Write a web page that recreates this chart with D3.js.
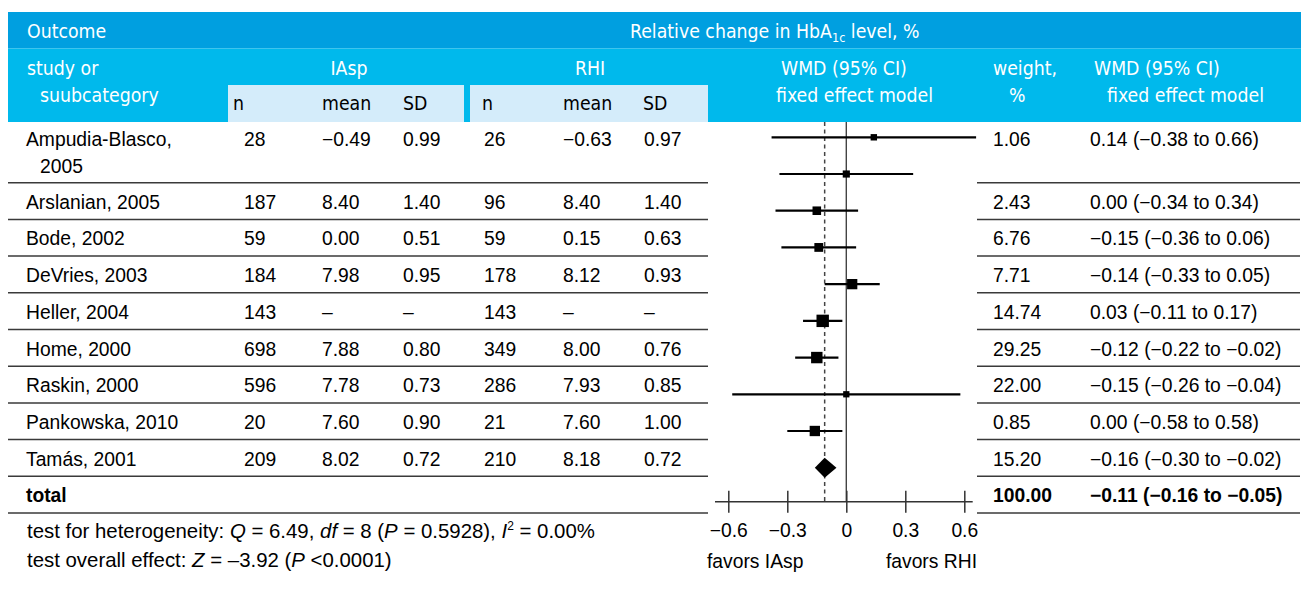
<!DOCTYPE html>
<html><head><meta charset="utf-8">
<script src="https://cdn.jsdelivr.net/npm/d3@7"></script>
<style>
html,body{margin:0;padding:0;background:#fff;}
svg{display:block;}
</style></head>
<body>
<script>
// ---------- DATA ----------
const studyLabels = [["Ampudia-Blasco,", "2005"], ["Arslanian, 2005"], ["Bode, 2002"], ["DeVries, 2003"],
  ["Heller, 2004"], ["Home, 2000"], ["Raskin, 2000"], ["Pankowska, 2010"], ["Tamás, 2001"]];
const iaspN = [28, 187, 59, 184, 143, 698, 596, 20, 209];
const iaspMean = [-0.49, 8.40, 0.00, 7.98, null, 7.88, 7.78, 7.60, 8.02];
const iaspSD = [0.99, 1.40, 0.51, 0.95, null, 0.80, 0.73, 0.90, 0.72];
const rhiN = [26, 96, 59, 178, 143, 349, 286, 21, 210];
const rhiMean = [-0.63, 8.40, 0.15, 8.12, null, 8.00, 7.93, 7.60, 8.18];
const rhiSD = [0.97, 1.40, 0.63, 0.93, null, 0.76, 0.85, 1.00, 0.72];
const weights = [1.06, 2.43, 6.76, 7.71, 14.74, 29.25, 22.00, 0.85, 15.20];
const wmd = [0.14, 0.00, -0.15, -0.14, 0.03, -0.12, -0.15, 0.00, -0.16];
const ciLow = [-0.38, -0.34, -0.36, -0.33, -0.11, -0.22, -0.26, -0.58, -0.30];
const ciHigh = [0.66, 0.34, 0.06, 0.05, 0.17, -0.02, -0.04, 0.58, -0.02];
const totalWeight = 100.00;
const totalWmd = -0.11, totalLow = -0.16, totalHigh = -0.05;
const axisTicks = [-0.6, -0.3, 0, 0.3, 0.6];

// ---------- SETUP ----------
const W = 1308, H = 609;
const bodyFont = "'Liberation Sans', Arial, sans-serif";
const headFont = "'Liberation Sans Narrow', 'Arial Narrow', 'DejaVu Sans Condensed', sans-serif";
const dash = s => s.replace(/-/g, "\u2013");
const f2 = v => v == null ? "\u2013" : dash(d3.format(".2f")(v));

const svg = d3.select("body").append("svg").attr("width", W).attr("height", H);
svg.append("rect").attr("width", W).attr("height", H).attr("fill", "#fff");

// header bands
const hdr = svg.append("g");
hdr.append("rect").attr("x", 8).attr("y", 12).attr("width", 1293).attr("height", 36.5).attr("fill", "#009fe0");
hdr.append("rect").attr("x", 8).attr("y", 48.5).attr("width", 1293).attr("height", 73.5).attr("fill", "#00b9ec");
hdr.append("rect").attr("x", 228).attr("y", 85).attr("width", 236).attr("height", 37).attr("fill", "#d4ecfa");
hdr.append("rect").attr("x", 470).attr("y", 85).attr("width", 238).attr("height", 37).attr("fill", "#d4ecfa");

function htext(x, y, s, anchor, color) {
  return hdr.append("text").attr("x", x).attr("y", y).attr("text-anchor", anchor || "start")
    .attr("font-family", headFont).attr("font-size", 19.3).attr("fill", color || "#fff").text(s);
}
htext(27, 38, "Outcome");
const rel = hdr.append("text").attr("x", 630).attr("y", 38).attr("font-family", headFont)
  .attr("font-size", 19.3).attr("fill", "#fff");
rel.append("tspan").text("Relative change in HbA");
rel.append("tspan").attr("font-size", 12.5).attr("dy", 4).text("1c");
rel.append("tspan").attr("dy", -4).text(" level, %");
htext(27, 75, "study or");
htext(40, 102, "suubcategory");
htext(349, 75, "IAsp", "middle");
htext(590, 75, "RHI", "middle");
[[233, "n"], [322, "mean"], [403, "SD"], [482, "n"], [563, "mean"], [643, "SD"]].forEach(d => htext(d[0], 110, d[1], "start", "#000"));
htext(781, 75, "WMD (95% CI)");
htext(776, 102, "fixed effect model");
htext(993, 75, "weight,");
htext(1009, 102, "%");
htext(1094, 75, "WMD (95% CI)");
htext(1107, 102, "fixed effect model");

// ---------- TABLE ROWS ----------
const rowsG = svg.append("g").attr("font-family", bodyFont).attr("font-size", 19.3).attr("fill", "#000");
const lineH = 36.7, firstTop = 122;
let tops = [];
let t = firstTop;
studyLabels.forEach(l => { tops.push(t); t += l.length > 1 ? 60.7 : lineH; });
const totalTop = t;
const tableBottom = totalTop + lineH;

function txt(x, y, s, bold) {
  return rowsG.append("text").attr("x", x).attr("y", y).attr("font-weight", bold ? "bold" : null).text(s);
}
studyLabels.forEach((lab, i) => {
  const base = i === 0 ? tops[i] + 24 : tops[i] + 26;
  txt(26, base, lab[0]);
  if (lab[1]) txt(40, base + 26.7, lab[1]);
  txt(244, base, iaspN[i]);
  txt(322, base, f2(iaspMean[i]));
  txt(403, base, f2(iaspSD[i]));
  txt(484, base, rhiN[i]);
  txt(563, base, f2(rhiMean[i]));
  txt(644, base, f2(rhiSD[i]));
  txt(993, base, d3.format(".2f")(weights[i]));
  txt(1090, base, `${f2(wmd[i])} (${f2(ciLow[i])} to ${f2(ciHigh[i])})`);
});
txt(26, totalTop + 26, "total", true);
txt(993, totalTop + 26, d3.format(".2f")(totalWeight), true);
txt(1090, totalTop + 26, `${f2(totalWmd)} (${f2(totalLow)} to ${f2(totalHigh)})`, true);

// separator lines
const sepYs = tops.slice(1).concat([totalTop, tableBottom]);
const sepG = svg.append("g").attr("stroke", "#3a3a3a").attr("stroke-width", 1.5);
sepYs.forEach(y => {
  sepG.append("line").attr("x1", 8).attr("x2", 708).attr("y1", y).attr("y2", y);
  sepG.append("line").attr("x1", 977).attr("x2", 1300).attr("y1", y).attr("y2", y);
});

// ---------- FOREST PLOT ----------
const x = d3.scaleLinear().domain([-0.6, 0.6]).range([728.3, 964.3]);
const yMark = d3.scaleLinear().domain([0, studyLabels.length]).range([137.3, 467.7]);
const size = d3.scaleSqrt().domain([0, 30]).range([5, 12.5]);
const axisY = 501.7;
const fp = svg.append("g");

fp.append("line").attr("x1", x(0)).attr("x2", x(0)).attr("y1", 122).attr("y2", axisY)
  .attr("stroke", "#444").attr("stroke-width", 1.4);
fp.append("line").attr("x1", x(totalWmd)).attr("x2", x(totalWmd)).attr("y1", 122).attr("y2", axisY)
  .attr("stroke", "#444").attr("stroke-width", 1.5).attr("stroke-dasharray", "4,3.5");

const rows = weights.map((w, i) => ({ w, m: wmd[i], lo: ciLow[i], hi: ciHigh[i], i }));
fp.selectAll(".ci").data(rows).join("line").attr("class", "ci")
  .attr("x1", d => x(d.lo)).attr("x2", d => x(d.hi))
  .attr("y1", d => yMark(d.i)).attr("y2", d => yMark(d.i))
  .attr("stroke", "#000").attr("stroke-width", 2.2);
fp.selectAll(".sq").data(rows).join("rect").attr("class", "sq")
  .attr("x", d => x(d.m) - size(d.w) / 2).attr("y", d => yMark(d.i) - size(d.w) / 2)
  .attr("width", d => size(d.w)).attr("height", d => size(d.w)).attr("fill", "#000");

const dy = yMark(studyLabels.length);
fp.append("path")
  .attr("d", `M${x(totalLow)},${dy} L${x(totalWmd)},${dy - 10} L${x(totalHigh)},${dy} L${x(totalWmd)},${dy + 10} Z`)
  .attr("fill", "#000");

// axis
const axis = d3.axisBottom(x).tickValues(axisTicks).tickSize(0)
  .tickFormat(v => v === 0 ? "0" : dash(d3.format(".1f")(v)));
const ax = svg.append("g").attr("transform", `translate(0,${axisY})`).call(axis);
ax.select(".domain").remove();
ax.append("line").attr("x1", 715).attr("x2", 972.7).attr("stroke", "#333").attr("stroke-width", 1.5);
ax.selectAll(".tick line").attr("y1", -11).attr("y2", 11).attr("stroke", "#333").attr("stroke-width", 1.5);
ax.selectAll(".tick text").attr("y", 35.5).attr("dy", 0)
  .attr("font-family", bodyFont).attr("font-size", 19.3).attr("fill", "#000");

svg.append("text").attr("x", 707).attr("y", 568).attr("font-family", bodyFont).attr("font-size", 19.3)
  .attr("fill", "#000").text("favors IAsp");
svg.append("text").attr("x", 977).attr("y", 568).attr("text-anchor", "end").attr("font-family", bodyFont)
  .attr("font-size", 19.3).attr("fill", "#000").text("favors RHI");

// ---------- FOOTNOTES ----------
function rich(y, parts) {
  const tEl = svg.append("text").attr("x", 27).attr("y", y).attr("font-family", bodyFont)
    .attr("font-size", 20.4).attr("fill", "#000");
  parts.forEach(p => {
    const ts = tEl.append("tspan").text(p.t);
    if (p.i) ts.attr("font-style", "italic");
    if (p.sup) ts.attr("font-size", 12).attr("dy", -8);
    if (p.down) ts.attr("dy", 8);
  });
}
rich(538, [{ t: "test for heterogeneity: " }, { t: "Q", i: 1 }, { t: " = 6.49, " }, { t: "df", i: 1 },
  { t: " = 8 (" }, { t: "P", i: 1 }, { t: " = 0.5928), " }, { t: "I", i: 1 }, { t: "2", sup: 1 },
  { t: " = 0.00%", down: 1 }]);
rich(567, [{ t: "test overall effect: " }, { t: "Z", i: 1 }, { t: " = \u20133.92 (" }, { t: "P", i: 1 }, { t: " <0.0001)" }]);
</script>
</body></html>
